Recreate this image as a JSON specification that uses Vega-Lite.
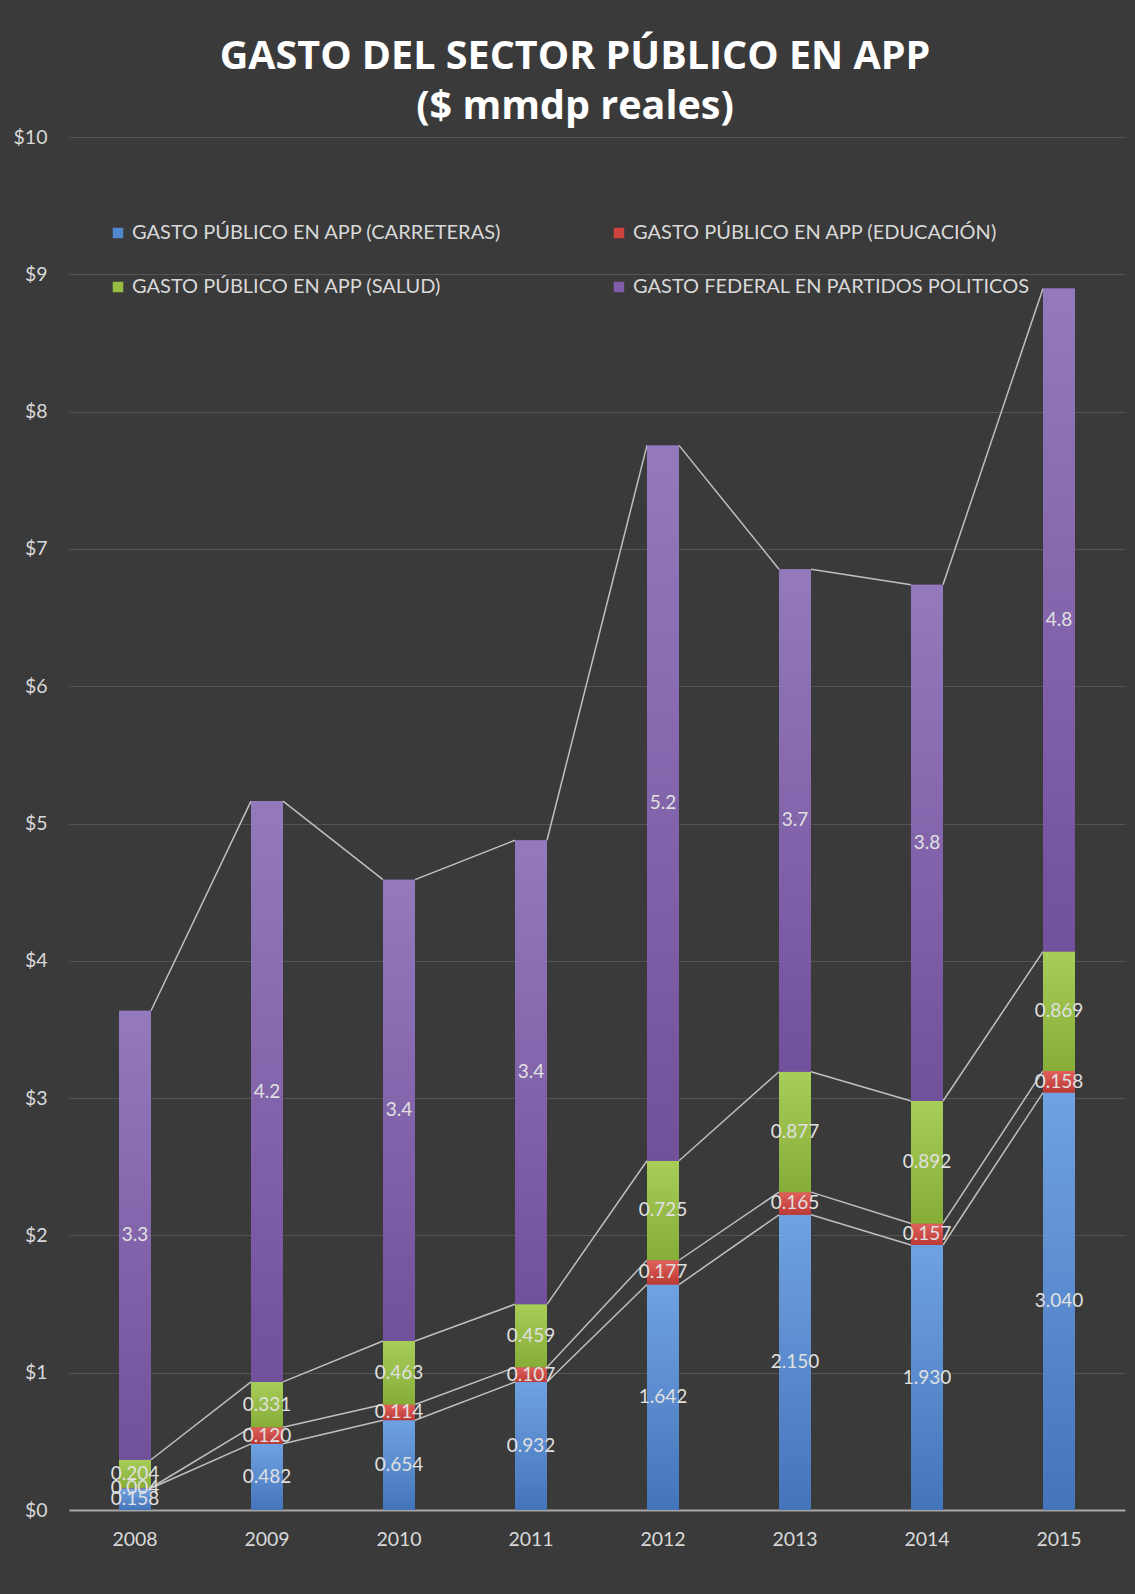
{
  "$schema": "https://vega.github.io/schema/vega-lite/v6.json",
  "width": 1056,
  "height": 1373,
  "autosize": {"type": "none"},
  "padding": {"left": 69, "top": 137, "right": 10, "bottom": 84},
  "background": "#3a3a3a",
  "title": {
    "text": ["GASTO DEL SECTOR PÚBLICO EN APP", "($ mmdp reales)"],
    "font": "Open Sans",
    "fontSize": 39.5,
    "fontWeight": "bold",
    "color": "#ffffff",
    "anchor": "middle",
    "lineHeight": 50,
    "offset": 0,
    "dx": -22
  },
  "config": {
    "view": {"stroke": null},
    "axis": {
      "labelFont": "Lato",
      "labelFontSize": 19.5,
      "labelColor": "#d9d9d9",
      "ticks": false,
      "title": null
    }
  },
  "data": {
    "values": [
      {"anio": "2008", "serie": "GASTO PÚBLICO EN APP (CARRETERAS)", "valor": 0.158},
      {"anio": "2008", "serie": "GASTO PÚBLICO EN APP (EDUCACIÓN)", "valor": 0.004},
      {"anio": "2008", "serie": "GASTO PÚBLICO EN APP (SALUD)", "valor": 0.204},
      {"anio": "2008", "serie": "GASTO FEDERAL EN PARTIDOS POLITICOS", "valor": 3.27},
      {"anio": "2009", "serie": "GASTO PÚBLICO EN APP (CARRETERAS)", "valor": 0.482},
      {"anio": "2009", "serie": "GASTO PÚBLICO EN APP (EDUCACIÓN)", "valor": 0.120},
      {"anio": "2009", "serie": "GASTO PÚBLICO EN APP (SALUD)", "valor": 0.331},
      {"anio": "2009", "serie": "GASTO FEDERAL EN PARTIDOS POLITICOS", "valor": 4.23},
      {"anio": "2010", "serie": "GASTO PÚBLICO EN APP (CARRETERAS)", "valor": 0.654},
      {"anio": "2010", "serie": "GASTO PÚBLICO EN APP (EDUCACIÓN)", "valor": 0.114},
      {"anio": "2010", "serie": "GASTO PÚBLICO EN APP (SALUD)", "valor": 0.463},
      {"anio": "2010", "serie": "GASTO FEDERAL EN PARTIDOS POLITICOS", "valor": 3.36},
      {"anio": "2011", "serie": "GASTO PÚBLICO EN APP (CARRETERAS)", "valor": 0.932},
      {"anio": "2011", "serie": "GASTO PÚBLICO EN APP (EDUCACIÓN)", "valor": 0.107},
      {"anio": "2011", "serie": "GASTO PÚBLICO EN APP (SALUD)", "valor": 0.459},
      {"anio": "2011", "serie": "GASTO FEDERAL EN PARTIDOS POLITICOS", "valor": 3.38},
      {"anio": "2012", "serie": "GASTO PÚBLICO EN APP (CARRETERAS)", "valor": 1.642},
      {"anio": "2012", "serie": "GASTO PÚBLICO EN APP (EDUCACIÓN)", "valor": 0.177},
      {"anio": "2012", "serie": "GASTO PÚBLICO EN APP (SALUD)", "valor": 0.725},
      {"anio": "2012", "serie": "GASTO FEDERAL EN PARTIDOS POLITICOS", "valor": 5.21},
      {"anio": "2013", "serie": "GASTO PÚBLICO EN APP (CARRETERAS)", "valor": 2.150},
      {"anio": "2013", "serie": "GASTO PÚBLICO EN APP (EDUCACIÓN)", "valor": 0.165},
      {"anio": "2013", "serie": "GASTO PÚBLICO EN APP (SALUD)", "valor": 0.877},
      {"anio": "2013", "serie": "GASTO FEDERAL EN PARTIDOS POLITICOS", "valor": 3.66},
      {"anio": "2014", "serie": "GASTO PÚBLICO EN APP (CARRETERAS)", "valor": 1.930},
      {"anio": "2014", "serie": "GASTO PÚBLICO EN APP (EDUCACIÓN)", "valor": 0.157},
      {"anio": "2014", "serie": "GASTO PÚBLICO EN APP (SALUD)", "valor": 0.892},
      {"anio": "2014", "serie": "GASTO FEDERAL EN PARTIDOS POLITICOS", "valor": 3.76},
      {"anio": "2015", "serie": "GASTO PÚBLICO EN APP (CARRETERAS)", "valor": 3.040},
      {"anio": "2015", "serie": "GASTO PÚBLICO EN APP (EDUCACIÓN)", "valor": 0.158},
      {"anio": "2015", "serie": "GASTO PÚBLICO EN APP (SALUD)", "valor": 0.869},
      {"anio": "2015", "serie": "GASTO FEDERAL EN PARTIDOS POLITICOS", "valor": 4.83}
    ]
  },
  "transform": [
    {"calculate": "indexof(['GASTO PÚBLICO EN APP (CARRETERAS)','GASTO PÚBLICO EN APP (EDUCACIÓN)','GASTO PÚBLICO EN APP (SALUD)','GASTO FEDERAL EN PARTIDOS POLITICOS'], datum.serie)", "as": "k"},
    {"stack": "valor", "groupby": ["anio"], "sort": [{"field": "k", "order": "ascending"}], "as": ["y0", "y1"]},
    {"calculate": "(datum.y0 + datum.y1) / 2", "as": "ym"},
    {"calculate": "datum.k == 3 ? format(datum.valor, '.1f') : format(datum.valor, '.3f')", "as": "lbl"},
    {"window": [{"op": "lead", "field": "anio", "as": "anio2"}, {"op": "lead", "field": "y1", "as": "y1n"}], "groupby": ["serie"], "sort": [{"field": "anio", "order": "ascending"}]}
  ],
  "encoding": {
    "x": {
      "field": "anio",
      "type": "ordinal",
      "axis": {"labelAngle": 0, "labelPadding": 20, "domainColor": "#a6a6a6", "domainWidth": 2, "grid": false}
    }
  },
  "layer": [
    {
      "transform": [{"filter": "datum.anio2 != null"}],
      "mark": {"type": "rule", "color": "#c0c0c0", "strokeWidth": 1.5, "xOffset": 16, "x2Offset": -16},
      "encoding": {
        "x": {"field": "anio", "type": "ordinal", "bandPosition": 0.5},
        "x2": {"field": "anio2", "bandPosition": 0.5},
        "y": {"field": "y1", "type": "quantitative", "scale": {"domain": [0, 10]}, "axis": {"values": [0,1,2,3,4,5,6,7,8,9,10], "labelExpr": "'$' + datum.value", "labelPadding": 22, "domain": false, "gridColor": "#555555", "gridWidth": 1}},
        "y2": {"field": "y1n"}
      }
    },
    {
      "mark": {"type": "bar", "width": 32},
      "encoding": {
        "y": {"field": "y0", "type": "quantitative"},
        "y2": {"field": "y1"},
        "color": {
          "field": "serie",
          "type": "nominal",
          "scale": {
            "domain": ["GASTO PÚBLICO EN APP (CARRETERAS)", "GASTO PÚBLICO EN APP (EDUCACIÓN)", "GASTO PÚBLICO EN APP (SALUD)", "GASTO FEDERAL EN PARTIDOS POLITICOS"],
            "range": ["#5187cf", "#cf433f", "#95bd42", "#805daa"]
          },
          "legend": {
            "title": null,
            "orient": "none",
            "direction": "horizontal",
            "legendX": 39,
            "legendY": 86,
            "columns": 2,
            "gridAlign": "all",
            "columnPadding": 80,
            "rowPadding": 34,
            "symbolType": "square",
            "symbolSize": 110,
            "symbolStrokeWidth": 0,
            "labelFont": "Lato",
            "labelFontSize": 20,
            "labelColor": "#d9d9d9",
            "labelLimit": 600
          }
        }
      }
    },
    {
      "transform": [{"filter": "datum.k == 0"}],
      "mark": {"type": "bar", "width": 32, "color": {"gradient": "linear", "x1": 0, "y1": 0, "x2": 0, "y2": 1, "stops": [{"offset": 0, "color": "#6fa2e2"}, {"offset": 1, "color": "#4474ba"}]}},
      "encoding": {"y": {"field": "y0", "type": "quantitative"}, "y2": {"field": "y1"}}
    },
    {
      "transform": [{"filter": "datum.k == 1"}],
      "mark": {"type": "bar", "width": 32, "color": {"gradient": "linear", "x1": 0, "y1": 0, "x2": 0, "y2": 1, "stops": [{"offset": 0, "color": "#e0605b"}, {"offset": 1, "color": "#bc3a36"}]}},
      "encoding": {"y": {"field": "y0", "type": "quantitative"}, "y2": {"field": "y1"}}
    },
    {
      "transform": [{"filter": "datum.k == 2"}],
      "mark": {"type": "bar", "width": 32, "color": {"gradient": "linear", "x1": 0, "y1": 0, "x2": 0, "y2": 1, "stops": [{"offset": 0, "color": "#a8cd58"}, {"offset": 1, "color": "#86ad38"}]}},
      "encoding": {"y": {"field": "y0", "type": "quantitative"}, "y2": {"field": "y1"}}
    },
    {
      "transform": [{"filter": "datum.k == 3"}],
      "mark": {"type": "bar", "width": 32, "color": {"gradient": "linear", "x1": 0, "y1": 0, "x2": 0, "y2": 1, "stops": [{"offset": 0, "color": "#9479bc"}, {"offset": 1, "color": "#71509c"}]}},
      "encoding": {"y": {"field": "y0", "type": "quantitative"}, "y2": {"field": "y1"}}
    },
    {
      "mark": {"type": "text", "font": "Lato", "fontSize": 19, "color": "#e0e0e0", "align": "center", "baseline": "middle"},
      "encoding": {
        "y": {"field": "ym", "type": "quantitative"},
        "text": {"field": "lbl"}
      }
    }
  ]
}
